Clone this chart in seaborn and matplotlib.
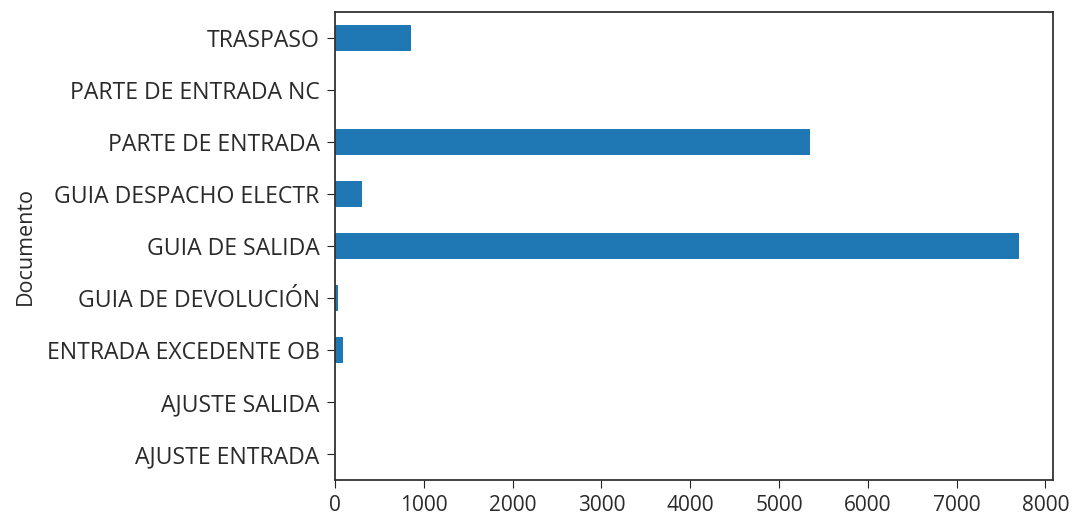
import matplotlib
matplotlib.use("Agg")
import matplotlib.pyplot as plt
import seaborn as sns
import pandas as pd

# Document types, listed top to bottom as drawn
documentos = [
    "TRASPASO",
    "PARTE DE ENTRADA NC",
    "PARTE DE ENTRADA",
    "GUIA DESPACHO ELECTR",
    "GUIA DE SALIDA",
    "GUIA DE DEVOLUCIÓN",
    "ENTRADA EXCEDENTE OB",
    "AJUSTE SALIDA",
    "AJUSTE ENTRADA",
]
cantidades = [860, 2, 5350, 300, 7700, 35, 85, 3, 2]
x_ticks = [0, 1000, 2000, 3000, 4000, 5000, 6000, 7000, 8000]

plt.rcParams["font.family"] = ["Open Sans", "DejaVu Sans"]
plt.rcParams["font.size"] = 16

df = pd.DataFrame({"Documento": documentos, "Cantidad": cantidades})

fig, ax = plt.subplots(figsize=(10.72, 5.15), dpi=100)
fig.subplots_adjust(left=0.3125, right=0.9823, top=0.9767, bottom=0.068)

sns.barplot(
    data=df, x="Cantidad", y="Documento", order=documentos,
    orient="h", width=0.5, color="#1f77b4", saturation=1, ax=ax,
)

ax.set_xlim(0, max(cantidades) * 1.05)
ax.set_xticks(x_ticks)
ax.set_xlabel("")
ax.set_ylabel("Documento", fontsize=15.5, labelpad=8, color="#2a2a2a")
ax.tick_params(axis="y", labelsize=16.6, labelcolor="#2a2a2a", colors="#222222",
               direction="out", length=6, pad=5)
ax.tick_params(axis="x", labelsize=15, labelcolor="#2a2a2a", colors="#222222",
               direction="out", length=6, pad=5)
for s in ax.spines.values():
    s.set_color("#333333")
    s.set_linewidth(1.3)

fig.savefig("out.png", dpi=100)
